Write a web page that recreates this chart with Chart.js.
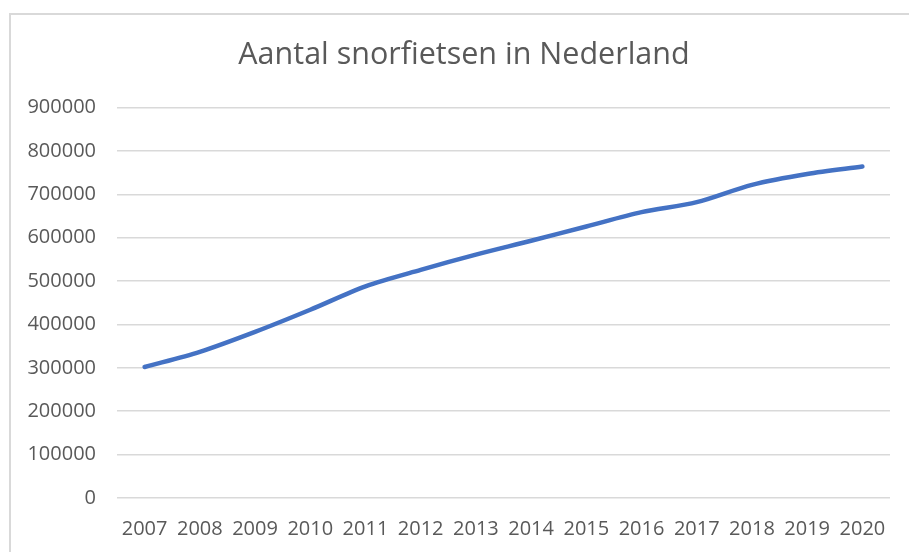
<!DOCTYPE html>
<html>
<head>
<meta charset="utf-8">
<script src="https://cdn.jsdelivr.net/npm/chart.js@4"></script>
<style>
    html, body { margin: 0; padding: 0; background: #fff; }
    #wrap { position: relative; width: 909px; height: 552px; overflow: hidden; }
    #frame {
        position: absolute; left: 9px; top: 13px; width: 1000px; height: 600px;
        border-left: 2px solid #d9d9d9; border-top: 2px solid #d9d9d9;
    }
    canvas { position: absolute; left: 0; top: 0; }
</style>
</head>
<body>
<div id="wrap">
    <div id="frame"></div>
    <canvas id="myChart" width="909" height="552"></canvas>
</div>
<script>
const years = ['2007', '2008', '2009', '2010', '2011', '2012', '2013', '2014', '2015', '2016', '2017', '2018', '2019', '2020'];
const snorfietsen = [302000, 337000, 383000, 434000, 488000, 526000, 561000, 593000, 626000, 659000, 682000, 722000, 747000, 764000];
const yTicks = [0, 100000, 200000, 300000, 400000, 500000, 600000, 700000, 800000, 900000];

const textColor = '#595959';
const gridColor = '#d9d9d9';

// title in the original sits over the plot area, a bit right of the canvas centre
const shiftTitle = {
    id: 'shiftTitle',
    afterLayout(chart) {
        if (chart.titleBlock) chart.titleBlock.left += 18;
    }
};

const ctx = document.getElementById('myChart').getContext('2d');
const myChart = new Chart(ctx, {
    type: 'line',
    data: {
        labels: years,
        datasets: [{
            label: 'Aantal snorfietsen',
            data: snorfietsen,
            borderColor: '#4472c4',
            borderWidth: 4.5,
            borderCapStyle: 'round',
            borderJoinStyle: 'round',
            pointRadius: 0,
            tension: 0.3,
            fill: false
        }]
    },
    options: {
        responsive: false,
        animation: false,
        layout: {
            padding: { left: 20, right: 19, top: 0, bottom: 0 }
        },
        plugins: {
            legend: { display: false },
            tooltip: { enabled: false },
            title: {
                display: true,
                text: 'Aantal snorfietsen in Nederland',
                color: textColor,
                font: { family: 'Open Sans', size: 30.5, weight: 'normal', lineHeight: 1.2 },
                padding: { top: 37, bottom: 34 }
            }
        },
        scales: {
            x: {
                offset: true,
                grid: { display: false },
                border: { display: false },
                ticks: {
                    color: textColor,
                    padding: 11,
                    maxRotation: 0,
                    autoSkip: false,
                    font: { family: 'Open Sans', size: 20 }
                },
                afterFit: (scale) => { scale.height = 54; }
            },
            y: {
                min: 0,
                max: 900000,
                afterBuildTicks: (scale) => { scale.ticks = yTicks.map(v => ({ value: v })); },
                grid: { color: gridColor, lineWidth: 1.5, drawTicks: false },
                border: { display: false },
                ticks: {
                    color: textColor,
                    padding: 21,
                    font: { family: 'Open Sans', size: 20 },
                    callback: (v) => String(v)
                },
                afterFit: (scale) => { scale.width = 97; }
            }
        }
    },
    plugins: [shiftTitle]
});
</script>
</body>
</html>
